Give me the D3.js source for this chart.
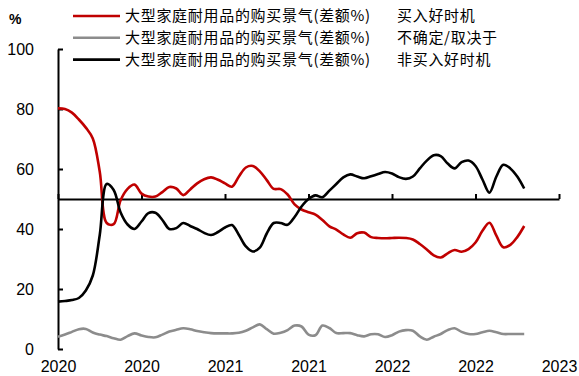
<!DOCTYPE html>
<html>
<head>
<meta charset="utf-8">
<script src="https://cdn.jsdelivr.net/npm/d3@7"></script>
<style>
  html, body { margin: 0; padding: 0; background: #fff; }
  svg { display: block; }
  .num { font-family: "Liberation Sans", Arial, sans-serif; font-size: 16px; fill: #000; }
  .cjk { font-family: "Noto Sans CJK SC", sans-serif; font-size: 15px; letter-spacing: 0.7px; fill: #000; }
</style>
</head>
<body>
<svg id="chart" width="579" height="376"></svg>
<script>
// Semi-monthly survey readings, Jan 2020 onward (percent of respondents)
const periods = d3.range(68);            // half-month index from Jan 2020
const xTickIndex = [0, 12, 24, 36, 48, 60, 72];
const xTickLabels = ["2020", "2020", "2021", "2021", "2022", "2022", "2023"];
const yTicks = [0, 20, 40, 60, 80, 100];

const seriesNames = [
  "大型家庭耐用品的购买景气(差额%) 买入好时机",
  "大型家庭耐用品的购买景气(差额%) 不确定/取决于",
  "大型家庭耐用品的购买景气(差额%) 非买入好时机"
];
const seriesColors = ["#c00000", "#8c8c8c", "#000000"];

const goodTime = [
  80.2, 80.0, 78.8, 76.5, 73.8, 70.2, 59.1, 42.0, 41.6, 49.6,
  53.4, 54.8, 51.8, 50.8, 50.8, 52.3, 54.0, 53.5, 51.3, 53.2,
  55.2, 56.6, 57.2, 56.4, 55.2, 54.1, 57.5, 60.5, 61.0, 59.2,
  56.3, 53.4, 53.3, 51.5, 48.2, 46.5, 45.6, 44.8, 43.0, 40.9,
  39.8, 38.2, 37.1, 38.6, 38.8, 37.3, 37.0, 36.9, 37.0, 37.1,
  37.0, 36.5, 35.0, 33.2, 31.2, 30.5, 31.9, 33.0, 32.4, 33.3,
  35.5, 39.4, 42.1, 37.8, 33.9, 34.7, 37.3, 41.0
];
const uncertain = [
  4.1, 4.8, 5.7, 6.6, 6.7, 5.5, 4.8, 4.3, 3.6, 3.1,
  4.3, 5.2, 4.5, 4.0, 3.9, 4.8, 5.8, 6.4, 6.9, 6.6,
  6.0, 5.6, 5.3, 5.2, 5.2, 5.2, 5.4, 6.1, 7.2, 8.2,
  6.6, 5.1, 5.4, 6.3, 7.8, 7.5, 4.8, 4.6, 7.8, 7.0,
  5.3, 5.3, 5.3, 4.6, 4.2, 4.9, 4.9, 4.0, 4.6, 5.8,
  6.3, 6.1, 4.2, 3.1, 4.1, 5.0, 6.3, 6.9, 5.7, 5.0,
  5.0, 5.6, 6.1, 5.6, 5.0, 5.0, 5.0, 5.0
];
const badTime = [
  15.8, 16.0, 16.3, 17.0, 19.5, 24.5, 38.0, 55.0, 53.0, 45.5,
  41.5, 40.0, 42.5, 45.3, 45.4, 43.0, 40.0, 40.3, 42.0, 41.0,
  40.0, 38.7, 38.0, 39.0, 40.5, 41.3, 38.0, 34.2, 32.5, 33.8,
  38.5, 42.0, 42.0, 41.4, 44.0, 47.5, 50.0, 51.2, 50.6, 52.8,
  55.0, 57.2, 58.2, 57.5, 56.9, 57.6, 58.3, 59.0, 58.5, 57.3,
  56.7, 57.5, 60.2, 62.8, 64.6, 64.3, 61.8, 60.2, 62.3, 62.8,
  61.0, 56.5, 52.1, 57.5, 61.4, 60.2, 57.5, 53.5
];
const referenceLevel = 50;

const svg = d3.select("#chart");
const plotLeft = 58, plotRight = 559, plotTop = 49, plotBottom = 349;

const x = d3.scaleLinear().domain([0, 72]).range([plotLeft, plotRight]);
const y = d3.scaleLinear().domain([0, 100]).range([plotBottom, plotTop]);

// y axis: ticks point inward, labels on the left
const yAxis = d3.axisLeft(y).tickValues(yTicks)
  .tickSizeInner(-5).tickSizeOuter(0).tickPadding(24)
  .tickFormat(d3.format("d"));
const gy = svg.append("g").attr("transform", `translate(${plotLeft},0)`).call(yAxis);
gy.select(".domain").attr("stroke", "#000").attr("stroke-width", 2);
gy.selectAll(".tick line").attr("stroke", "#000").attr("stroke-width", 2);
gy.selectAll(".tick text").attr("class", "num").attr("dy", "0.36em");

// x axis line drawn at the 50 level with upward ticks
const xAxisLine = d3.axisTop(x).tickValues(xTickIndex)
  .tickSizeInner(5).tickSizeOuter(0).tickFormat("");
const gx = svg.append("g").attr("transform", `translate(0,${y(referenceLevel)})`).call(xAxisLine);
gx.select(".domain").attr("stroke", "#000").attr("stroke-width", 2);
gx.selectAll(".tick line").attr("stroke", "#000").attr("stroke-width", 2);

// year labels along the bottom edge
const xLabels = d3.axisBottom(x).tickValues(xTickIndex)
  .tickSize(0).tickPadding(0)
  .tickFormat((d, i) => xTickLabels[i]);
const gxl = svg.append("g").attr("transform", `translate(0,${plotBottom + 12})`).call(xLabels);
gxl.select(".domain").remove();
gxl.selectAll(".tick text").attr("class", "num").attr("dy", "0.71em");

// "%" unit label
svg.append("text").attr("x", 9).attr("y", 24)
  .attr("font-family", "Liberation Sans, Arial, sans-serif")
  .attr("font-weight", "bold").attr("font-size", 14).text("%");

// series lines
const allSeries = [goodTime, uncertain, badTime];
const line = d3.line()
  .x((d, i) => x(periods[i]))
  .y(d => y(d))
  .curve(d3.curveCatmullRom.alpha(0.5));

allSeries.forEach((vals, s) => {
  svg.append("path")
    .datum(vals)
    .attr("fill", "none")
    .attr("stroke", seriesColors[s])
    .attr("stroke-width", 2.6)
    .attr("stroke-linejoin", "round")
    .attr("d", line);
});

// legend
const legend = svg.append("g");
seriesNames.forEach((name, s) => {
  const ly = 16 + s * 21.8;
  legend.append("line")
    .attr("x1", 73).attr("x2", 120).attr("y1", ly).attr("y2", ly)
    .attr("stroke", seriesColors[s]).attr("stroke-width", 2.6);
  const parts = name.split(" ");
  const t = legend.append("text").attr("class", "cjk").attr("y", ly).attr("dy", "0.36em");
  t.append("tspan").attr("x", 125).text(parts[0]);
  t.append("tspan").attr("x", 397).text(parts[1]);
});
</script>
</body>
</html>
